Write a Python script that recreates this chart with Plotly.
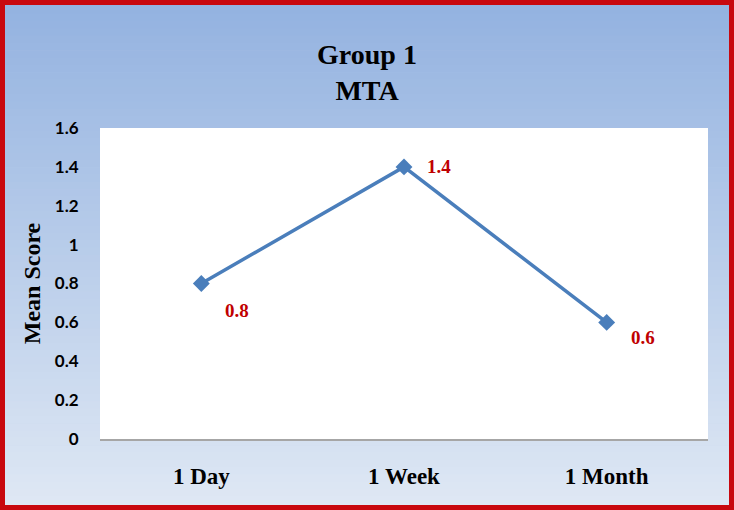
import plotly.graph_objects as go

categories = ["1 Day", "1 Week", "1 Month"]
mean_scores = [0.8, 1.4, 0.6]
value_labels = ["0.8", "1.4", "0.6"]
y_tick_vals = [0, 0.2, 0.4, 0.6, 0.8, 1.0, 1.2, 1.4, 1.6]
y_tick_text = ["0", "0.2", "0.4", "0.6", "0.8", "1", "1.2", "1.4", "1.6"]

SERIF = "Liberation Serif, Cambria, serif"
SANS = "Lato, Calibri, sans-serif"

fig = go.Figure()
fig.add_trace(go.Scatter(
    x=categories, y=mean_scores, mode="lines+markers",
    line=dict(color="#4A7EBB", width=3.5),
    marker=dict(symbol="diamond", size=13, color="#4A7EBB"),
    showlegend=False, hoverinfo="skip",
))

# label offsets (pixels) – styling only
label_shift = [(36, -27), (35, 0), (36, -15)]
for cat, val, txt, (dx, dy) in zip(categories, mean_scores, value_labels, label_shift):
    fig.add_annotation(x=cat, y=val, xref="x", yref="y", text=txt, showarrow=False,
                       xshift=dx, yshift=dy,
                       font=dict(family=SERIF, size=19, color="#C00000", weight="bold"))

# gradient background (covers the whole figure)
PW, PH = 608.0, 311.0
y_bot = -72 / PH
y_top = 1 + 129 / PH
shapes = []
n = 70
top = (0x93, 0xB2, 0xE0)
bot = (0xDF, 0xE8, 0xF4)
step = (y_top - y_bot) / n
for i in range(n):
    t = i / (n - 1)
    c = tuple(int(round(top[k] + (bot[k] - top[k]) * t)) for k in range(3))
    shapes.append(dict(type="rect", xref="paper", yref="paper",
                       x0=-0.3, x1=1.3,
                       y0=y_top - (i + 1) * step - 0.002, y1=y_top - i * step,
                       line=dict(width=0), fillcolor="rgb(%d,%d,%d)" % c, layer="below"))
# plot area
shapes.append(dict(type="rect", xref="paper", yref="paper", x0=0, x1=1, y0=0, y1=1,
                   line=dict(width=0), fillcolor="white", layer="below"))
# red frame
shapes.append(dict(type="rect", xref="paper", yref="paper",
                   x0=-100 / PW, x1=1 + 26 / PW, y0=y_bot + 1 / PH, y1=y_top - 1 / PH,
                   line=dict(color="#C8080E", width=10), fillcolor="rgba(0,0,0,0)",
                   layer="above"))
fig.update_layout(shapes=shapes)

fig.update_layout(
    width=734, height=510,
    margin=dict(l=100, r=26, t=128, b=71),
    paper_bgcolor="#BCCFEA", plot_bgcolor="white",
    title=dict(text="Group 1<br>MTA", x=0.5, xanchor="center",
               yref="container", y=1 - 64 / 510, yanchor="middle",
               font=dict(family=SERIF, size=28, color="black", weight="bold")),
    xaxis=dict(type="category", range=[-0.5, 2.5], showgrid=False, zeroline=False,
               showline=True, linecolor="#A6A6A6", linewidth=1.5,
               tickfont=dict(family=SERIF, size=23, color="black", weight="bold"),
               ticks="outside", ticklen=16, tickcolor="rgba(0,0,0,0)"),
    yaxis=dict(range=[0, 1.6], tickvals=y_tick_vals, ticktext=y_tick_text,
               showgrid=False, zeroline=False, showline=False,
               tickfont=dict(family=SANS, size=17, color="black", weight="bold"),
               ticks="outside", ticklen=17, tickcolor="rgba(0,0,0,0)",
               title=dict(text="Mean Score", standoff=7,
                          font=dict(family=SERIF, size=24, color="black", weight="bold"))),
)

fig.write_html("out.html", config={"displayModeBar": False},
               post_script="document.body.style.margin='0px';")
